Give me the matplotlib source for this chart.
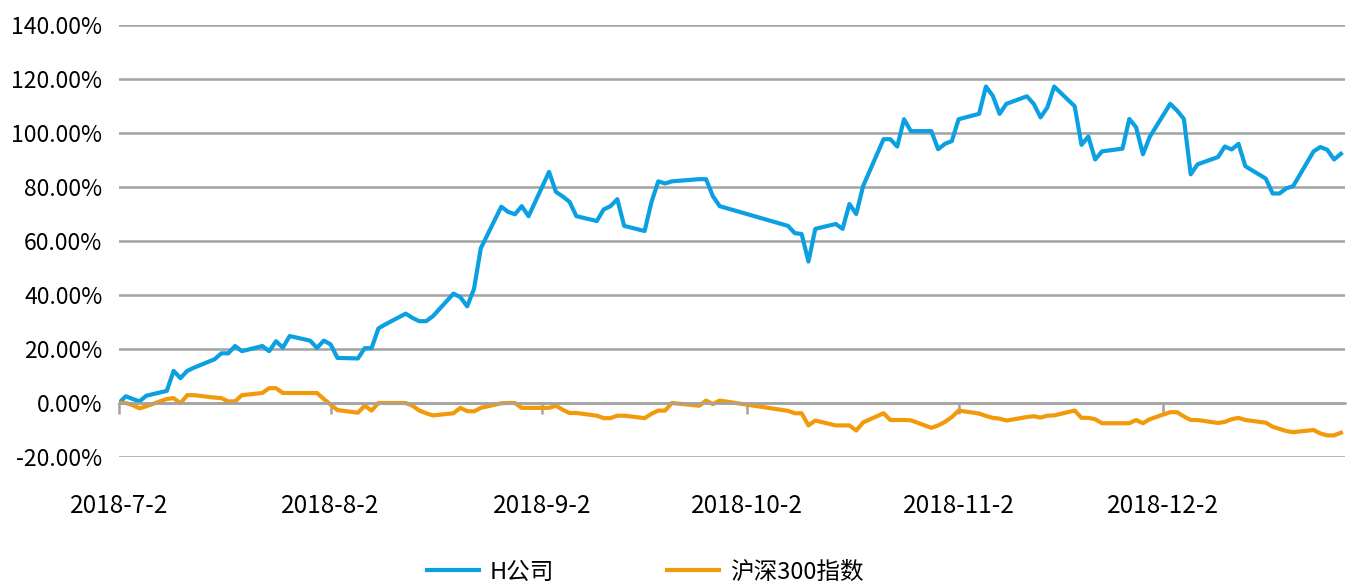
import pandas as pd
import matplotlib
matplotlib.use('Agg')
import matplotlib.pyplot as plt
from matplotlib.ticker import FuncFormatter

plt.rcParams['font.family'] = ['Noto Sans CJK SC', 'DejaVu Sans']

# trading days, 2018 H2
jul = [2, 3, 4, 5, 6, 9, 10, 11, 12, 13, 16, 17, 18, 19, 20, 23, 24, 25, 26, 27, 30, 31]
aug = [1, 2, 3, 6, 7, 8, 9, 10, 13, 14, 15, 16, 17, 20, 21, 22, 23, 24, 27, 28, 29, 30, 31]
sep = [3, 4, 5, 6, 7, 10, 11, 12, 13, 14, 17, 18, 19, 20, 21, 25, 26, 27, 28]
oct_ = [8, 9, 10, 11, 12, 15, 16, 17, 18, 19, 22, 23, 24, 25, 26, 29, 30, 31]
nov = [1, 2, 5, 6, 7, 8, 9, 12, 13, 14, 15, 16, 19, 20, 21, 22, 23, 26, 27, 28, 29, 30]
dec = [3, 4, 5, 6, 7, 10, 11, 12, 13, 14, 17, 18, 19, 20, 21, 24, 25, 26, 27, 28]

# cumulative return, %
h_company = [
    0, 2.5, 1.5, 0.6, 2.7, 4.5, 11.9, 9.2, 11.9, 13.1, 16.2, 18.4, 18.4, 21.1, 19.2, 21.1, 19.2, 22.9, 20.5, 24.8, 23.1, 20.4,
    23.1, 21.7, 16.7, 16.5, 20.3, 20.3, 27.6, 29.1, 33.1, 31.5, 30.3, 30.3, 32.2, 40.5, 39.2, 35.8, 42.2, 57.3, 72.7, 70.8, 69.9, 72.9, 69.2,
    85.6, 78.2, 76.5, 74.5, 69.2, 67.4, 71.7, 72.9, 75.5, 65.6, 63.7, 74.4, 82.1, 81.3, 82.1, 82.9, 82.9, 76.6, 72.9,
    65.6, 62.9, 62.6, 52.4, 64.5, 66.3, 64.5, 73.7, 70.0, 80.3, 97.7, 97.7, 95.0, 105.1, 100.7, 100.7, 94.0, 96.0,
    97.0, 105.1, 107.1, 117.2, 113.8, 107.1, 110.8, 113.6, 110.8, 105.8, 109.5, 117.2, 109.9, 95.6, 98.7, 90.2, 93.2, 94.2, 105.2, 102.1, 92.1, 98.6,
    110.8, 108.3, 105.2, 84.7, 88.4, 91.1, 95.0, 93.9, 96.0, 87.7, 83.1, 77.6, 77.6, 79.5, 80.3, 93.2, 94.8, 93.8, 90.2, 92.3,
]
hs300 = [
    0, 0, -0.8, -2.0, -1.2, 1.5, 1.8, -0.1, 2.9, 2.9, 2.0, 1.8, 0.6, 0.6, 2.9, 3.7, 5.5, 5.5, 3.7, 3.7, 3.7, 3.7,
    1.5, -0.6, -2.6, -3.6, -1.0, -2.8, 0, 0, 0, -1.0, -2.8, -3.8, -4.6, -3.8, -1.8, -3.0, -3.1, -1.8, -0.1, 0, 0, -1.8, -1.8,
    -1.8, -1.0, -2.5, -3.7, -3.7, -4.7, -5.6, -5.6, -4.7, -4.7, -5.6, -4.0, -2.8, -2.8, 0, -1.0, 0.9, -0.4, 0.9,
    -2.9, -3.8, -3.8, -8.3, -6.5, -8.3, -8.3, -8.3, -10.2, -7.2, -3.8, -6.3, -6.3, -6.3, -6.4, -9.2, -8.3, -7.0,
    -5.2, -2.8, -3.9, -4.8, -5.5, -5.8, -6.5, -5.2, -4.9, -5.4, -4.7, -4.6, -2.8, -5.5, -5.5, -6.0, -7.5, -7.5, -7.5, -6.3, -7.5, -6.0,
    -3.4, -3.4, -5.0, -6.3, -6.3, -7.4, -7.0, -6.0, -5.5, -6.3, -7.3, -8.8, -9.6, -10.4, -10.8, -10.0, -11.3, -12.0, -12.0, -11.0,
]
tick_dates = ['2018-07-02', '2018-08-02', '2018-09-02', '2018-10-02', '2018-11-02', '2018-12-02']
tick_labels = ['2018-7-2', '2018-8-2', '2018-9-2', '2018-10-2', '2018-11-2', '2018-12-2']


def build_dates():
    days = []
    for m, lst in zip(range(7, 13), [jul, aug, sep, oct_, nov, dec]):
        days += [pd.Timestamp(2018, m, d) for d in lst]
    return days


def main():
    dates = build_dates()
    grid_c = '#A3A3A3'

    fig = plt.figure(figsize=(13.54, 5.83), dpi=100)
    ax = fig.add_axes([119 / 1354, 126 / 583, 1226 / 1354, 432 / 583])

    ax.plot(dates, h_company, color='#0AA0E2', lw=3, label='H公司', solid_joinstyle='round')
    ax.plot(dates, hs300, color='#F39A0B', lw=3, label='沪深300指数', solid_joinstyle='round')

    start = pd.Timestamp('2018-07-02')
    ax.set_xlim(start, start + pd.Timedelta(days=179.6))
    ax.set_ylim(-20, 140)
    ax.set_yticks(range(-20, 141, 20))
    ax.yaxis.set_major_formatter(FuncFormatter(lambda v, p: '{:.2f}%'.format(v)))
    ax.grid(axis='y', color=grid_c, lw=1.8)
    ax.set_axisbelow(True)

    for s in ['top', 'right', 'left']:
        ax.spines[s].set_visible(False)
    ax.spines['bottom'].set_position(('data', 0))
    ax.spines['bottom'].set_color(grid_c)
    ax.spines['bottom'].set_linewidth(1.8)

    ax.set_xticks(pd.to_datetime(tick_dates))
    ax.set_xticklabels(tick_labels)
    ax.tick_params(axis='x', direction='out', length=8, width=1.8, color=grid_c,
                   pad=57, labelsize=17.5, labelcolor='black')
    ax.tick_params(axis='y', length=0, pad=12, labelsize=16.5, labelcolor='black')

    fig.legend(loc='center', bbox_to_anchor=(645 / 1354, 1 - 572 / 583), ncol=2, frameon=False,
               fontsize=17, handlelength=2.2, handletextpad=0.45, columnspacing=4.8)

    plt.savefig('out.png', dpi=100)


if __name__ == "__main__":
    main()
